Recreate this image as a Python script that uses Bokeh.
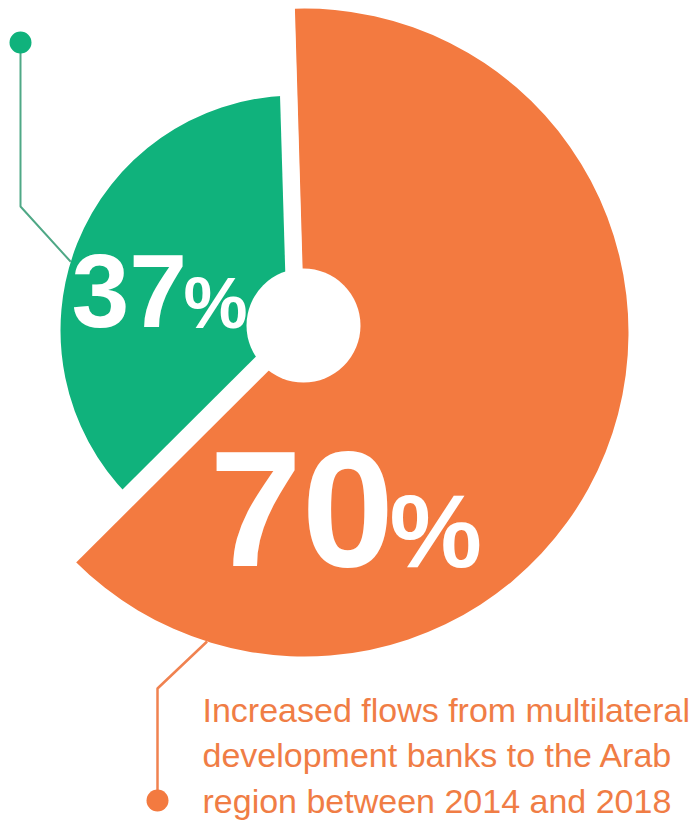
import math
from bokeh.plotting import figure
from bokeh.models import Range1d, ColumnDataSource
from bokeh.core.properties import value
from bokeh.embed import file_html
from bokeh.resources import INLINE

# ---------------- data ----------------
categories = ["Share (green)", "Increased flows from MDBs"]
values = [37, 70]                      # percent shown in the chart
number_labels = ["37", "70"]
percent_sign = ["%", "%"]
colors = ["#10B27C", "#F37A40"]
caption_lines = [
    "Increased flows from multilateral",
    "development banks to the Arab",
    "region between 2014 and 2018",
]

# ---------------- layout constants (page pixels) ----------------
W, H = 698, 824
def Y(img_y):            # page pixel row -> data y
    return H - img_y

BASE_FIX = 0.36          # renderer places alphabetic baseline ~0.36em low
def TY(img_baseline, size):
    return Y(img_baseline) + BASE_FIX * size

START_DEG = 91.7                         # boundary between orange and green (top)
green_end = START_DEG + values[0] / 100 * 360   # green occupies its share of the circle

PIE_X, PIE_Y = 295, 330                  # common pie centre (gaps radiate from here)
GREEN_R = 235
ORANGE_X, ORANGE_Y, ORANGE_R = 304, 332, 324
HOLE_X, HOLE_Y, HOLE_R = 303, 325, 57

p = figure(width=W, height=H, x_range=Range1d(0, W), y_range=Range1d(0, H),
           output_backend="svg", toolbar_location=None, min_border=0)
p.axis.visible = False
p.grid.visible = False
p.outline_line_color = None
p.background_fill_color = "white"
p.border_fill_color = "white"

# wedges
wsrc = ColumnDataSource(dict(
    x=[PIE_X, ORANGE_X],
    y=[Y(PIE_Y), Y(ORANGE_Y)],
    r=[GREEN_R, ORANGE_R],
    start=[START_DEG, green_end],
    end=[green_end, START_DEG + 360],
    color=colors,
    cat=categories,
))
p.wedge(x="x", y="y", radius="r", start_angle="start", end_angle="end",
        start_angle_units="deg", end_angle_units="deg", direction="anticlock",
        fill_color="color", line_color=None, source=wsrc)

# white gaps between the slices
GAP_LEN = 345
gap_angles = [START_DEG, green_end]
gap_widths = [17, 19]
for ang, lw in zip(gap_angles, gap_widths):
    a = math.radians(ang)
    p.segment(x0=[PIE_X], y0=[Y(PIE_Y)],
              x1=[PIE_X + GAP_LEN * math.cos(a)], y1=[Y(PIE_Y) + GAP_LEN * math.sin(a)],
              line_color="white", line_width=lw, line_cap="butt")

# centre hole
p.circle(x=[HOLE_X], y=[Y(HOLE_Y)], radius=HOLE_R, fill_color="white", line_color=None)

# leader lines
ga = math.radians(163)
g_anchor = (PIE_X + GREEN_R * math.cos(ga), Y(PIE_Y) + GREEN_R * math.sin(ga))
p.line(x=[g_anchor[0], 20, 20], y=[g_anchor[1], Y(206), Y(42)],
       line_color="#4FA886", line_width=2)
p.circle(x=[20], y=[Y(42)], radius=11, fill_color=colors[0], line_color=None)

oa = math.radians(252.5)
o_anchor = (ORANGE_X + ORANGE_R * math.cos(oa), Y(ORANGE_Y) + ORANGE_R * math.sin(oa))
p.line(x=[o_anchor[0], 157, 157], y=[o_anchor[1], Y(688), Y(800)],
       line_color="#F08250", line_width=2.5)
p.circle(x=[157], y=[Y(800)], radius=11, fill_color=colors[1], line_color=None)

# big numbers
num_font = value("Liberation Sans")
def big(x, base, txt, size):
    p.text(x=[x], y=[TY(base, size)], text=[txt], text_font=num_font,
           text_font_style="bold", text_font_size=value(f"{size}px"), text_color="white",
           text_align="left", text_baseline="alphabetic")

big(71, 328, number_labels[0], 104)
big(183, 328, percent_sign[0], 72)
big(209, 568, number_labels[1], 166)
big(389, 568, percent_sign[1], 104)

# caption
CAP_SIZE = 34
cap_y = [TY(b, CAP_SIZE) for b in (722, 767, 813)]
p.text(x=[202] * 3, y=cap_y, text=caption_lines, text_font=value("Liberation Sans"),
       text_font_size=value(f"{CAP_SIZE}px"), text_color="#F07D45",
       text_align="left", text_baseline="alphabetic")

open("out.html", "w").write(file_html(p, INLINE))
